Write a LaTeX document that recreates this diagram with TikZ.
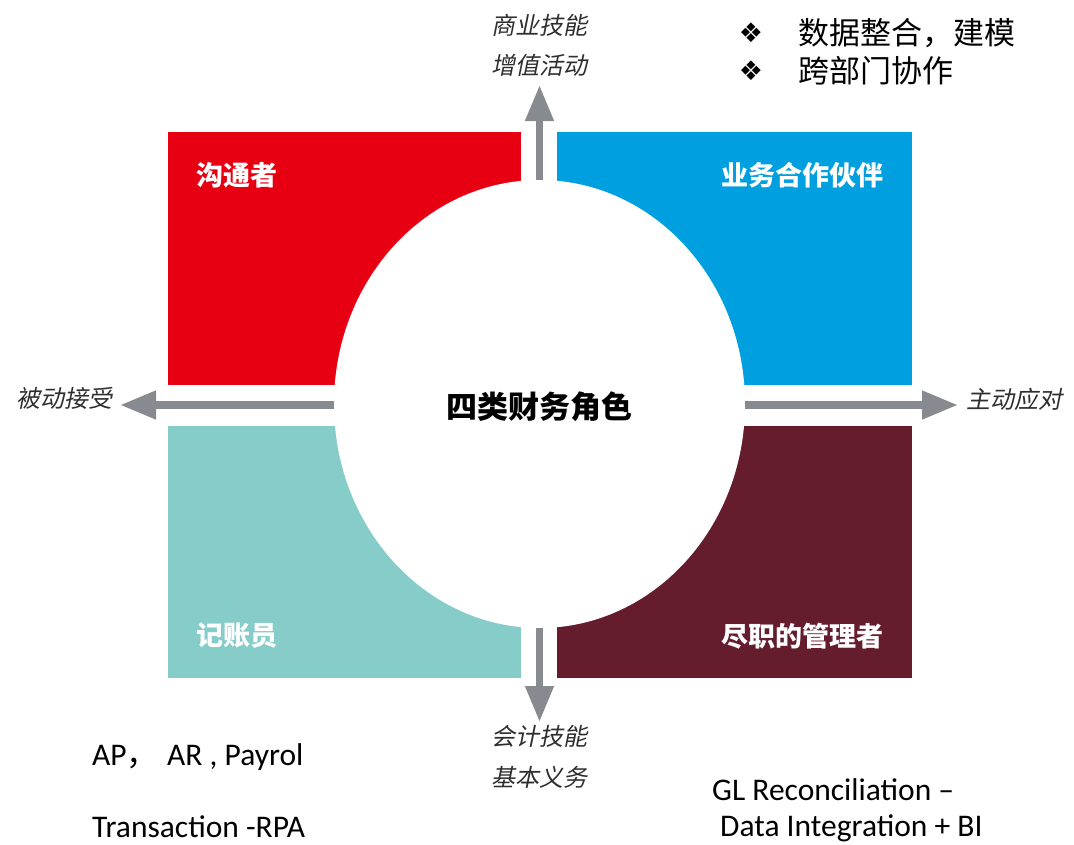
\documentclass[tikz,border=0pt]{standalone}
\usepackage{fontspec}
\usetikzlibrary{arrows.meta,shapes.geometric}
\newfontfamily\cjk{Noto Sans CJK SC}
\newfontfamily\cjkit[FakeSlant=0.2]{Noto Sans CJK SC}
\newfontfamily\calib{Carlito}
\newfontfamily\djv{DejaVu Sans}
\definecolor{qred}{HTML}{E60012}
\definecolor{qblue}{HTML}{00A0E0}
\definecolor{qteal}{HTML}{86CCC9}
\definecolor{qdark}{HTML}{651C2D}
\definecolor{arrgray}{HTML}{878B8F}
\definecolor{lblgray}{HTML}{2E2E2E}
\begin{document}
\begin{tikzpicture}[x=1pt,y=-1pt,
  boxlbl/.style={font=\cjk\bfseries\fontsize{27}{27}\selectfont, text=white, inner sep=0},
  axlbl/.style={font=\cjkit\fontsize{24}{24}\selectfont, text=lblgray, inner sep=0},
  noteblk/.style={font=\cjk\fontsize{31}{31}\selectfont, text=black, inner sep=0},
  bul/.style={font=\djv\fontsize{27}{27}\selectfont, text=black, inner sep=0},
  engl/.style={font=\calib\fontsize{31.5}{31.5}\selectfont, text=black, inner sep=0},
  arr/.style={draw=arrgray, line width=7.5pt, -{Triangle[width=27pt,length=36pt]}}]
\useasboundingbox (0,0) rectangle (1074,844);
% quadrants
\fill[qred]  (168,132) rectangle (521,385);
\fill[qblue] (557,132) rectangle (912,385);
\fill[qteal] (168,426) rectangle (521,678);
\fill[qdark] (557,426) rectangle (912,678);
% central ellipse
\node[ellipse, fill=white, minimum width=411pt, minimum height=448pt, inner sep=0] (c) at (539.5,404) {};
\node[font=\cjk\bfseries\fontsize{31}{31}\selectfont, inner sep=0] (title) at (539.5,407) {四类财务角色};
% arrow ends
\coordinate (upTip) at (539.5,85);
\coordinate (downTip) at (539.5,722);
\coordinate (leftTip) at (120,405);
\coordinate (rightTip) at (958,405);
\draw[arr] (c.north) -- (upTip);
\draw[arr] (c.south) -- (downTip);
\draw[arr] (c.west |- leftTip) -- (leftTip);
\draw[arr] (c.east |- rightTip) -- (rightTip);
% quadrant labels
\node[boxlbl, anchor=west] (q1) at (196,175) {沟通者};
\node[boxlbl, anchor=east] (q2) at (884,175) {业务合作伙伴};
\node[boxlbl, anchor=west] (q3) at (196,636) {记账员};
\node[boxlbl, anchor=east] (q4) at (884,636) {尽职的管理者};
% axis labels
\node[axlbl] (u1) at (539,25) {商业技能};
\node[axlbl] (u2) at (539,65) {增值活动};
\node[axlbl] (d1) at (539,736) {会计技能};
\node[axlbl] (d2) at (539,777) {基本义务};
\node[axlbl, anchor=east] (l1) at (113,398) {被动接受};
\node[axlbl, anchor=west] (r1) at (966,399) {主动应对};
% top-right notes
\node[bul] (b1) at (751,33) {❖};
\node[bul] (b2) at (751,71) {❖};
\node[noteblk, anchor=west] (n1) at (798,33) {数据整合，建模};
\node[noteblk, anchor=west] (n2) at (798,71) {跨部门协作};
% english notes
\node[engl, anchor=base west] (e1) at (92,765) {AP{\cjk ，}\hspace{9pt}AR , Payrol};
\node[engl, anchor=base west] (e2) at (92,837) {Transaction -RPA};
\node[engl, anchor=base west] (e3) at (712,800) {GL Reconciliation –};
\node[engl, anchor=base west] (e4) at (720,836) {Data Integration + BI};
\end{tikzpicture}
\end{document}
